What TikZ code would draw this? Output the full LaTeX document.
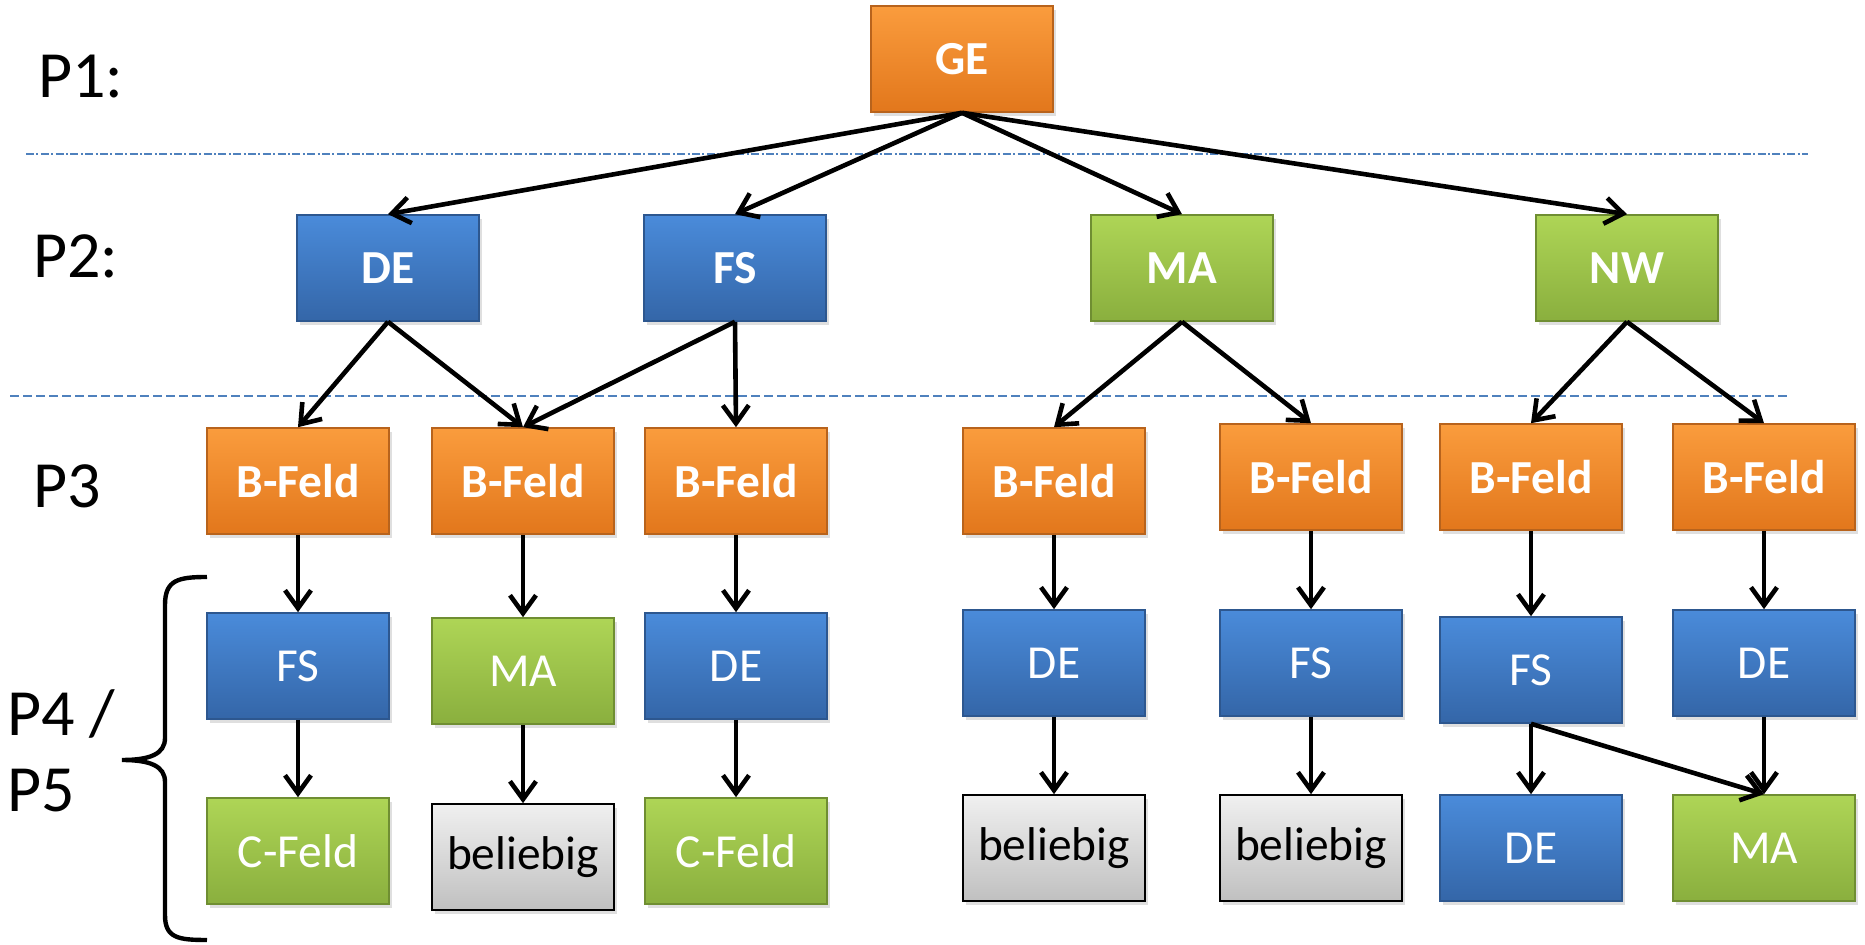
\documentclass[tikz,border=0pt]{standalone}
\usepackage{fontspec}
\setmainfont{Carlito}
\usetikzlibrary{arrows.meta,shadows}

\definecolor{orangetop}{HTML}{FA9C3D}
\definecolor{orangebot}{HTML}{E2771C}
\definecolor{orangeline}{HTML}{B8631C}
\definecolor{bluetop}{HTML}{4A8BDA}
\definecolor{bluebot}{HTML}{3466A8}
\definecolor{blueline}{HTML}{2D578F}
\definecolor{greentop}{HTML}{AED556}
\definecolor{greenbot}{HTML}{8AAF3E}
\definecolor{greenline}{HTML}{6F8E32}
\definecolor{greytop}{HTML}{F0F0F0}
\definecolor{greybot}{HTML}{C0C0C0}
\definecolor{sepline}{HTML}{4F81BD}

\tikzset{
  box/.style={rectangle, inner sep=0, minimum width=91pt, minimum height=53pt,
    line width=0.8pt, text=white, font=\fontsize{23.7}{28}\selectfont,
    drop shadow={shadow xshift=1.5pt, shadow yshift=-2pt, opacity=0.25}},
  link/.style={->, line width=2.3pt},
  level/.style={anchor=base west, inner sep=0, font=\fontsize{33}{38}\selectfont}
}

\begin{document}
\begin{tikzpicture}[x=0.5pt, y=-0.5pt, >={Straight Barb[length=9pt, width=13pt]}]
\def\orangebox{node [box, top color=orangetop, bottom color=orangebot, draw=orangeline, font=\fontsize{23.7}{28}\selectfont\bfseries] }
\def\bluebold{node [box, top color=bluetop, bottom color=bluebot, draw=blueline, font=\fontsize{23.7}{28}\selectfont\bfseries] }
\def\greenbold{node [box, top color=greentop, bottom color=greenbot, draw=greenline, font=\fontsize{23.7}{28}\selectfont\bfseries] }
\def\bluebox{node [box, top color=bluetop, bottom color=bluebot, draw=blueline] }
\def\greenbox{node [box, top color=greentop, bottom color=greenbot, draw=greenline] }
\def\greybox{node [box, top color=greytop, bottom color=greybot, draw=black, text=black] }
\useasboundingbox (0,0) rectangle (1865,945);

% separators
\draw [sepline, line width=0.75pt, dash pattern=on 4pt off 1.2pt on 1pt off 1.2pt] (26,154) -- (1808,154);
\draw [sepline, line width=0.75pt, dash pattern=on 4.5pt off 2pt] (10,396) -- (1790,396);

% levels
\node [level] (p1) at (38,98) {P1:};
\node [level] (p2) at (33,278) {P2:};
\node [level] (p3) at (33,508) {P3};
\node [level] (p4) at (7,736) {P4 /};
\node [level] (p5) at (7,812) {P5};
\coordinate (bracetop) at (207,577);
\coordinate (bracetip) at (122,760);
\coordinate (bracebot) at (207,940);
\draw [line width=2.2pt] (bracetop) .. controls (178,577) and (165,580) .. (165,605) -- (165,738)
  .. controls (165,754) and (150,760) .. (bracetip)
  .. controls (150,760) and (165,766) .. (165,782) -- (165,915)
  .. controls (165,938) and (178,940) .. (bracebot);

% P1 and P2
\draw (962,59) \orangebox (ge) {GE};
\draw (388,268) \bluebold (de) {DE};
\draw (735,268) \bluebold (fs) {FS};
\draw (1182,268) \greenbold (ma) {MA};
\draw (1627,268) \greenbold (nw) {NW};

% P3
\draw (298,481) \orangebox (bf1) {B-Feld};
\draw (523,481) \orangebox (bf2) {B-Feld};
\draw (736,481) \orangebox (bf3) {B-Feld};
\draw (1054,481) \orangebox (bf4) {B-Feld};
\draw (1311,477) \orangebox (bf5) {B-Feld};
\draw (1531,477) \orangebox (bf6) {B-Feld};
\draw (1764,477) \orangebox (bf7) {B-Feld};

% P4
\draw (298,666) \bluebox (fs1) {FS};
\draw (523,671) \greenbox (ma1) {MA};
\draw (736,666) \bluebox (de1) {DE};
\draw (1054,663) \bluebox (de2) {DE};
\draw (1311,663) \bluebox (fs2) {FS};
\draw (1531,670) \bluebox (fs3) {FS};
\draw (1764,663) \bluebox (de3) {DE};

% P5
\draw (298,851) \greenbox (cf1) {C-Feld};
\draw (523,857) \greybox (bl1) {beliebig};
\draw (736,851) \greenbox (cf2) {C-Feld};
\draw (1054,848) \greybox (bl2) {beliebig};
\draw (1311,848) \greybox (bl3) {beliebig};
\draw (1531,848) \bluebox (de4) {DE};
\draw (1764,848) \greenbox (ma2) {MA};

\draw [link] (ge.south) -- (de.north);
\draw [link] (ge.south) -- (fs.north);
\draw [link] (ge.south) -- (ma.north);
\draw [link] (ge.south) -- (nw.north);

\draw [link] (de.south) -- (bf1.north);
\draw [link] (de.south) -- (bf2.north);
\draw [link] (fs.south) -- (bf2.north);
\draw [link] (fs.south) -- (bf3.north);
\draw [link] (ma.south) -- (bf4.north);
\draw [link] (ma.south) -- (bf5.north);
\draw [link] (nw.south) -- (bf6.north);
\draw [link] (nw.south) -- (bf7.north);

\draw [link] (bf1) -- (fs1);
\draw [link] (bf2) -- (ma1);
\draw [link] (bf3) -- (de1);
\draw [link] (bf4) -- (de2);
\draw [link] (bf5) -- (fs2);
\draw [link] (bf6) -- (fs3);
\draw [link] (bf7) -- (de3);

\draw [link] (fs1) -- (cf1);
\draw [link] (ma1) -- (bl1);
\draw [link] (de1) -- (cf2);
\draw [link] (de2) -- (bl2);
\draw [link] (fs2) -- (bl3);
\draw [link] (fs3) -- (de4);
\draw [link] (fs3.south) -- (ma2.north);
\draw [link] (de3) -- (ma2);
\end{tikzpicture}
\end{document}
